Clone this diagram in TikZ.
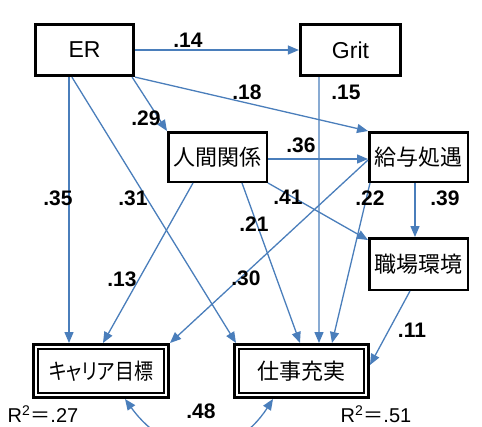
\documentclass[tikz,border=0pt]{standalone}
\usepackage{fontspec}
\setmainfont{Liberation Sans}
\newfontfamily\jpfont{Noto Sans CJK JP}
\newfontfamily\jpprop[RawFeature=+palt]{Noto Sans CJK JP}
\usetikzlibrary{arrows.meta,calc}
\definecolor{linkblue}{RGB}{74,126,187}
\tikzset{
  var/.style={draw=black, line width=2.5pt, inner sep=0pt,
    font=\jpfont\fontsize{22}{26}\selectfont},
  topvar/.style={var, line width=3.2pt, font=\fontsize{23}{27}\selectfont},
  dvar/.style={var, line width=3.2pt},
  link/.style={draw=linkblue, line width=1.3pt, -{Triangle[length=11pt,width=9pt]}},
  coef/.style={font=\bfseries\fontsize{21}{24}\selectfont, inner sep=0pt},
  rsq/.style={font=\fontsize{20}{24}\selectfont, inner sep=0pt}
}
\begin{document}
\begin{tikzpicture}[x=1pt,y=-1pt]
\useasboundingbox (0,0) rectangle (482,426);
% nodes
\node[topvar, minimum width=98pt, minimum height=51pt] (er) at (84.5,50) {ER};
\node[topvar, minimum width=100pt, minimum height=51pt] (grit) at (350.5,50) {Grit};
\node[var, minimum width=98.5pt, minimum height=49.5pt] (hr) at (217.5,157) {人間関係};
\node[var, minimum width=98.5pt, minimum height=49.5pt] (pay) at (418.5,157) {給与処遇};
\node[var, minimum width=98.5pt, minimum height=51.5pt] (env) at (418.5,264) {職場環境};
\node[dvar, minimum width=134.8pt, minimum height=52.8pt] (car) at (101,371) {\scalebox{0.86}[1]{\jpprop キャリア目標}};
\node[dvar, minimum width=133.8pt, minimum height=52.8pt] (job) at (301.5,371) {仕事充実};
\draw[line width=1.3pt] ($(car.north west)+(5.9,5.9)$) rectangle ($(car.south east)+(-5.9,-5.9)$);
\draw[line width=1.3pt] ($(job.north west)+(5.9,5.9)$) rectangle ($(job.south east)+(-5.9,-5.9)$);
% connectors
\draw[link] (er) -- (grit);
\draw[link] ($(er.south east)+(-3,0)$) -- (hr.north west);
\draw[link] (er.south east) -- (pay.north west);
\draw[link] ($(er.south)+(-15.5,0)$) -- ($(car.north west)+(37,0)$);
\draw[link] ($(er.south west)+(38,0)$) -- ($(job.north west)+(3,0)$);
\draw[link] ($(grit.south west)+(20,0)$) -- ($(job.north west)+(86,0)$);
\draw[link] ($(hr.east)+(0,2)$) -- ($(pay.west)+(0,2)$);
\draw[link] (hr.south east) -- ($(env.north west)+(0,3)$);
\draw[link] ($(hr.south west)+(26,0)$) -- ($(car.north west)+(71,0)$);
\draw[link] ($(hr.south west)+(75,0)$) -- ($(job.north west)+(67,0)$);
\draw[link] ($(pay.west)+(0,3)$) -- (car.north east);
\draw[link] ($(pay.south west)+(2,0)$) -- ($(job.north west)+(99,0)$);
\draw[link] ($(pay.south west)+(47,0)$) -- ($(env.north west)+(47,0)$);
\draw[link] ($(env.south west)+(42,0)$) -- ($(job.east)+(0,-6)$);
\draw[link, {Triangle[length=11pt,width=9pt]}-{Triangle[length=11pt,width=9pt]}]
  ($(car.south west)+(93,0)$) .. controls +(45,62) and +(-40,62) .. ($(job.south west)+(40,0)$);
% coefficients
\node[coef] (c14) at (188,40) {.14};
\node[coef] (c29) at (146,118) {.29};
\node[coef] (c18) at (247,92) {.18};
\node[coef] (c15) at (346,92) {.15};
\node[coef] (c36) at (301,145) {.36};
\node[coef] (c35) at (58,198) {.35};
\node[coef] (c31) at (133,198) {.31};
\node[coef] (c41) at (288,197) {.41};
\node[coef] (c21) at (254,224) {.21};
\node[coef] (c22) at (370,198) {.22};
\node[coef] (c39) at (445,198) {.39};
\node[coef] (c13) at (122,279) {.13};
\node[coef] (c30) at (246,278) {.30};
\node[coef] (c11) at (412,330) {.11};
\node[coef] (c48) at (201,411) {.48};
\node[rsq] (r1) at (43,414) {R\textsuperscript{2}{\jpfont ＝}.27};
\node[rsq] (r2) at (376,414) {R\textsuperscript{2}{\jpfont ＝}.51};
\end{tikzpicture}
\end{document}
